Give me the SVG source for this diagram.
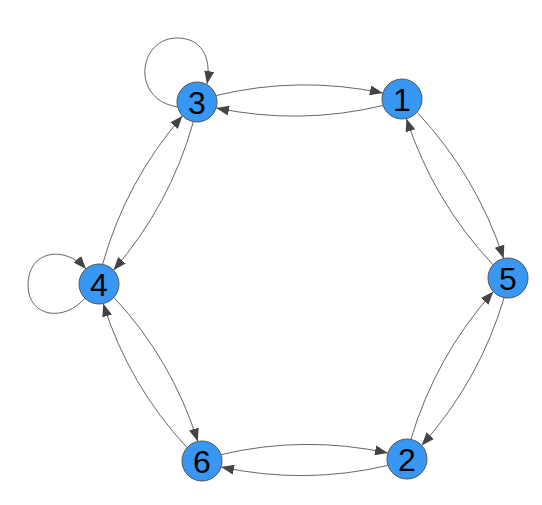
<svg xmlns="http://www.w3.org/2000/svg" width="542" height="505" viewBox="0 0 542 505">
<style>
.edge{fill:none;stroke:#666;stroke-width:1;marker-end:url(#arr)}
.node circle{fill:#3797f3;stroke:#555;stroke-width:1}
.node text{font-family:"Liberation Sans",Arial,sans-serif;font-size:32px;fill:#000;text-anchor:middle}
</style>
<defs>
<marker id="arr" markerUnits="userSpaceOnUse" markerWidth="14" markerHeight="10" refX="13" refY="5" orient="auto">
<path d="M0,0 L13,5 L0,10 Z" fill="#444"/>
</marker>
</defs>
<rect width="542" height="505" fill="#fff"/>
<g id="connectors">
<path class="edge" d="M215.93,95.54 Q299.13,75.5 382.89,93.10"/>
<path class="edge" d="M383.07,105.46 Q299.87,125.5 216.11,107.90"/>
<path class="edge" d="M417.01,112.22 Q476.51,175.76 503.63,258.48"/>
<path class="edge" d="M492.99,264.78 Q433.49,201.24 406.37,118.52"/>
<path class="edge" d="M504.13,297.62 Q479.33,380.68 421.67,445.40"/>
<path class="edge" d="M410.87,439.38 Q435.67,356.32 493.34,291.60"/>
<path class="edge" d="M388.04,465.37 Q304.74,485 221.08,466.99"/>
<path class="edge" d="M220.96,454.63 Q304.26,435 387.92,453.01"/>
<path class="edge" d="M187.09,447.67 Q128.89,385.08 103.23,303.55"/>
<path class="edge" d="M113.91,297.33 Q172.11,359.92 197.77,441.45"/>
<path class="edge" d="M102.58,264.32 Q125.99,181.15 182.54,115.82"/>
<path class="edge" d="M193.42,121.68 Q170.01,204.85 113.46,270.18"/>
<path class="edge" d="M178,107 C130,100 138,38 177,38 C200,38 212,55 207,84"/>
<path class="edge" d="M85,298 C65,322 28,318 28,285 C28,250 65,245 86,269"/>
</g>
<g id="node1" class="node"><circle cx="402" cy="99" r="20"/><text x="402" y="110.5">1</text></g>
<g id="node2" class="node"><circle cx="407" cy="459" r="20"/><text x="407" y="470.5">2</text></g>
<g id="node3" class="node"><circle cx="197" cy="102" r="20"/><text x="197" y="113.5">3</text></g>
<g id="node4" class="node"><circle cx="99" cy="284" r="20"/><text x="99" y="295.5">4</text></g>
<g id="node5" class="node"><circle cx="508" cy="278" r="20"/><text x="508" y="289.5">5</text></g>
<g id="node6" class="node"><circle cx="202" cy="461" r="20"/><text x="202" y="472.5">6</text></g>
</svg>
